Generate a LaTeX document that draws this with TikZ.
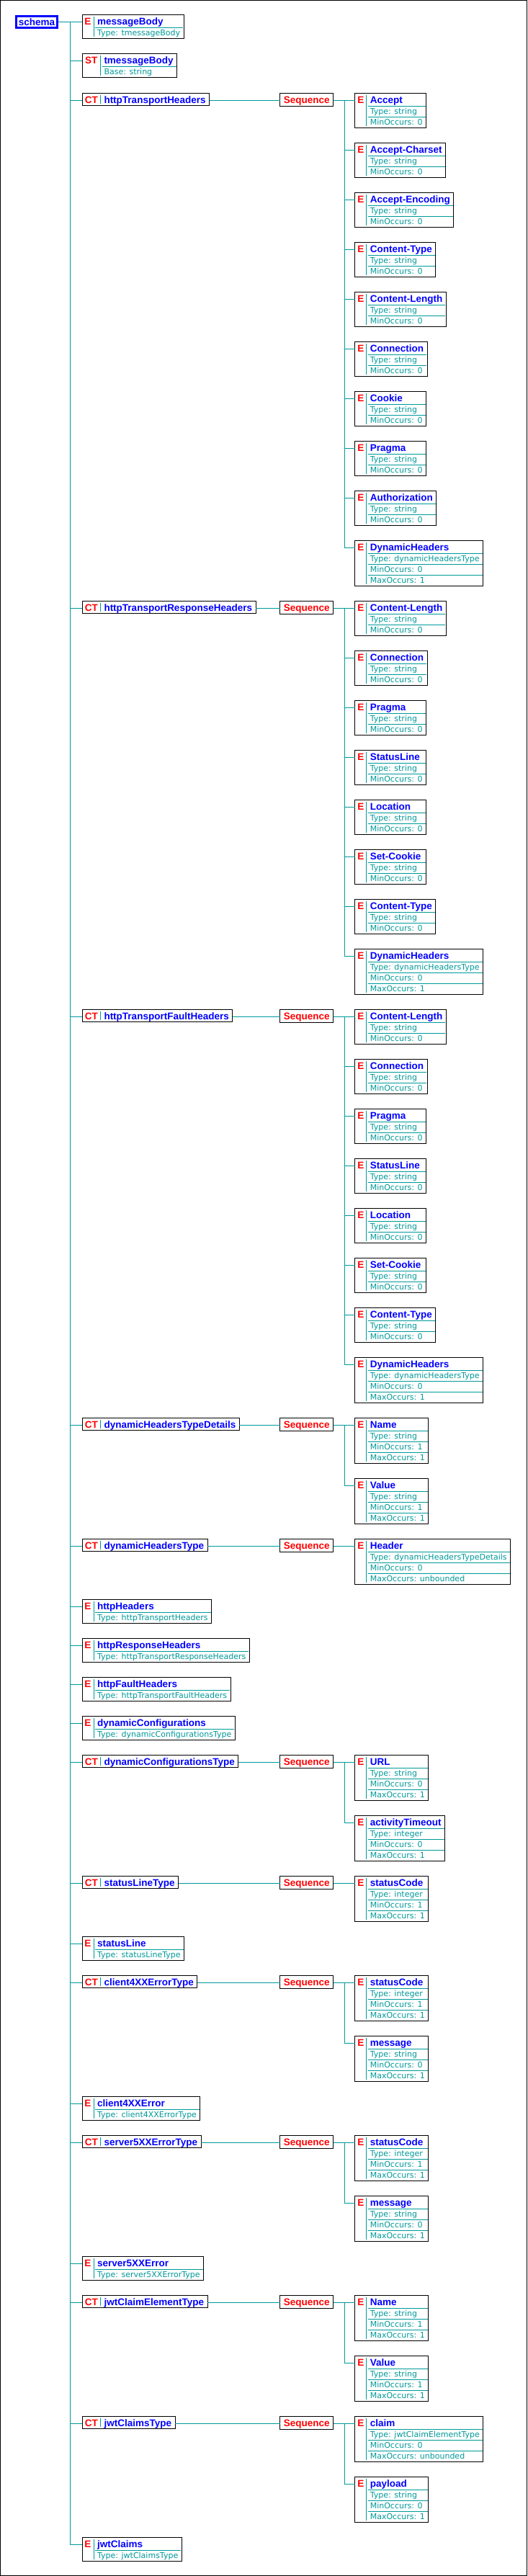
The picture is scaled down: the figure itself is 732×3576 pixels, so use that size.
\documentclass[tikz,border=0pt]{standalone}
\usepackage{fontspec}
\usetikzlibrary{calc}
\newfontfamily\LSans{Liberation Sans}
\newfontfamily\DSans{DejaVu Sans}
\newcommand\NameFont{\LSans\bfseries\fontsize{13.5}{16}\selectfont}
\newcommand\SmallFont{\DSans\fontsize{11}{13}\selectfont}
\definecolor{tealc}{RGB}{0,153,153}
\definecolor{xblue}{RGB}{0,0,255}
\definecolor{xred}{RGB}{255,0,0}
\tikzset{
  conn/.style={draw=tealc, line width=1pt},
  inrule/.style={draw=tealc, line width=1pt},
  xframe/.style={draw=black, line width=1pt, fill=white, inner sep=0pt, outer sep=0pt, anchor=north west},
  seqbox/.style={xframe, text=xred, font=\NameFont, inner xsep=5pt, inner ysep=0pt, text height=13.5pt, text depth=4.2pt},
  schemabox/.style={draw=xblue, line width=3pt, text=xblue, font=\NameFont, inner sep=0pt, minimum width=57.6pt, minimum height=15.6pt},
}
\newlength\CellW
% name, x, y, kind, cell width, title, rows
\newcommand\XBox[7]{%
  \setlength\CellW{#5pt}%
  \node[xframe] (#1) at (#2,#3) {\vbox{\offinterlineskip
     \hbox{\hbox to\CellW{\hss\textcolor{xred}{\NameFont #4}\hss}\hskip5pt\textcolor{xblue}{\NameFont #6}\vrule height13.5pt depth4pt width0pt\hskip5pt}%
     \foreach \rw in {#7}{\hbox{\hskip\CellW\hskip5pt\textcolor{tealc}{\SmallFont\rw}\vrule height11.5pt depth3.5pt width0pt\hskip5pt}}%
  }};
  \draw[inrule] ($(#1.north west)+(#5,2)$) -- ($(#1.south west)+(#5,-2)$);
  \foreach \rw [count=\ri from 0] in {#7} {\draw[inrule] ($(#1.north west)+(#5+2,17.5+15*\ri)$) -- ($(#1.north east)+(-1,17.5+15*\ri)$);}
}
% name, x, y, title
\newcommand\CTBox[4]{%
  \node[xframe] (#1) at (#2,#3) {\hbox{\hbox to 25.5pt{\hss\textcolor{xred}{\NameFont CT}\hss}\hskip5pt\textcolor{xblue}{\NameFont #4}\vrule height13.5pt depth2.5pt width0pt\hskip5pt}};
  \draw[inrule] ($(#1.north west)+(25.5,2)$) -- ($(#1.south west)+(25.5,-2)$);
}
\newcommand\TopLink[1]{\draw[conn] (schema.east) -- (trunk) |- ($(#1.north west)+(0,9.5)$);}
\newcommand\SeqLink[2]{\draw[conn] ($(#1.north east)+(0,9.5)$) -- ($(#2.north west)+(0,9.5)$);}
\newcommand\SubLink[2]{\draw[conn] ($(#1.north east)+(0,9.5)$) -- ++(16,0) |- ($(#2.north west)+(0,9.5)$);}
\newcommand\Ex{492.8}
\begin{document}
\begin{tikzpicture}[x=1pt,y=-1pt]
\useasboundingbox (0,0) rectangle (732,3576);
\draw[line width=1pt] (0.5,0.5) rectangle (731.5,3575.5);
\node[schemabox] (schema) at (51,30.3) {schema};
\coordinate (trunk) at (97.7,30.3);

% 1, 2
\XBox{messageBody}{114}{20.8}{E}{16}{messageBody}{Type: tmessageBody}
\XBox{tmessageBody}{114}{74.8}{ST}{25.5}{tmessageBody}{Base: string}

% 3 httpTransportHeaders
\CTBox{ctA}{114}{129.8}{httpTransportHeaders}
\node[seqbox] (sqA) at (388.8,129.8) {Sequence};
\XBox{a1}{\Ex}{129.8}{E}{16}{Accept}{Type: string,MinOccurs: 0}
\XBox{a2}{\Ex}{198.8}{E}{16}{Accept-Charset}{Type: string,MinOccurs: 0}
\XBox{a3}{\Ex}{267.8}{E}{16}{Accept-Encoding}{Type: string,MinOccurs: 0}
\XBox{a4}{\Ex}{336.8}{E}{16}{Content-Type}{Type: string,MinOccurs: 0}
\XBox{a5}{\Ex}{405.8}{E}{16}{Content-Length}{Type: string,MinOccurs: 0}
\XBox{a6}{\Ex}{474.8}{E}{16}{Connection}{Type: string,MinOccurs: 0}
\XBox{a7}{\Ex}{543.8}{E}{16}{Cookie}{Type: string,MinOccurs: 0}
\XBox{a8}{\Ex}{612.8}{E}{16}{Pragma}{Type: string,MinOccurs: 0}
\XBox{a9}{\Ex}{681.8}{E}{16}{Authorization}{Type: string,MinOccurs: 0}
\XBox{a10}{\Ex}{750.8}{E}{16}{DynamicHeaders}{Type: dynamicHeadersType,MinOccurs: 0,MaxOccurs: 1}

% 4 httpTransportResponseHeaders
\CTBox{ctB}{114}{834.9}{httpTransportResponseHeaders}
\node[seqbox] (sqB) at (388.8,834.9) {Sequence};
\XBox{b1}{\Ex}{834.9}{E}{16}{Content-Length}{Type: string,MinOccurs: 0}
\XBox{b2}{\Ex}{903.9}{E}{16}{Connection}{Type: string,MinOccurs: 0}
\XBox{b3}{\Ex}{972.9}{E}{16}{Pragma}{Type: string,MinOccurs: 0}
\XBox{b4}{\Ex}{1041.9}{E}{16}{StatusLine}{Type: string,MinOccurs: 0}
\XBox{b5}{\Ex}{1110.9}{E}{16}{Location}{Type: string,MinOccurs: 0}
\XBox{b6}{\Ex}{1179.9}{E}{16}{Set-Cookie}{Type: string,MinOccurs: 0}
\XBox{b7}{\Ex}{1248.9}{E}{16}{Content-Type}{Type: string,MinOccurs: 0}
\XBox{b8}{\Ex}{1317.9}{E}{16}{DynamicHeaders}{Type: dynamicHeadersType,MinOccurs: 0,MaxOccurs: 1}

% 5 httpTransportFaultHeaders
\CTBox{ctC}{114}{1401.8}{httpTransportFaultHeaders}
\node[seqbox] (sqC) at (388.8,1401.8) {Sequence};
\XBox{c1}{\Ex}{1401.8}{E}{16}{Content-Length}{Type: string,MinOccurs: 0}
\XBox{c2}{\Ex}{1470.8}{E}{16}{Connection}{Type: string,MinOccurs: 0}
\XBox{c3}{\Ex}{1539.8}{E}{16}{Pragma}{Type: string,MinOccurs: 0}
\XBox{c4}{\Ex}{1608.8}{E}{16}{StatusLine}{Type: string,MinOccurs: 0}
\XBox{c5}{\Ex}{1677.8}{E}{16}{Location}{Type: string,MinOccurs: 0}
\XBox{c6}{\Ex}{1746.8}{E}{16}{Set-Cookie}{Type: string,MinOccurs: 0}
\XBox{c7}{\Ex}{1815.8}{E}{16}{Content-Type}{Type: string,MinOccurs: 0}
\XBox{c8}{\Ex}{1884.8}{E}{16}{DynamicHeaders}{Type: dynamicHeadersType,MinOccurs: 0,MaxOccurs: 1}

% 6 dynamicHeadersTypeDetails
\CTBox{ctD}{114}{1968.8}{dynamicHeadersTypeDetails}
\node[seqbox] (sqD) at (388.8,1968.8) {Sequence};
\XBox{d1}{\Ex}{1968.8}{E}{16}{Name}{Type: string,MinOccurs: 1,MaxOccurs: 1}
\XBox{d2}{\Ex}{2052.8}{E}{16}{Value}{Type: string,MinOccurs: 1,MaxOccurs: 1}

% 7 dynamicHeadersType
\CTBox{ctE}{114}{2136.8}{dynamicHeadersType}
\node[seqbox] (sqE) at (388.8,2136.8) {Sequence};
\XBox{e1}{\Ex}{2136.8}{E}{16}{Header}{Type: dynamicHeadersTypeDetails,MinOccurs: 0,MaxOccurs: unbounded}

% 8-11
\XBox{httpHeaders}{114}{2220.8}{E}{16}{httpHeaders}{Type: httpTransportHeaders}
\XBox{httpResponseHeaders}{114}{2274.8}{E}{16}{httpResponseHeaders}{Type: httpTransportResponseHeaders}
\XBox{httpFaultHeaders}{114}{2328.8}{E}{16}{httpFaultHeaders}{Type: httpTransportFaultHeaders}
\XBox{dynamicConfigurations}{114}{2382.8}{E}{16}{dynamicConfigurations}{Type: dynamicConfigurationsType}

% 12 dynamicConfigurationsType
\CTBox{ctF}{114}{2436.8}{dynamicConfigurationsType}
\node[seqbox] (sqF) at (388.8,2436.8) {Sequence};
\XBox{f1}{\Ex}{2436.8}{E}{16}{URL}{Type: string,MinOccurs: 0,MaxOccurs: 1}
\XBox{f2}{\Ex}{2520.8}{E}{16}{activityTimeout}{Type: integer,MinOccurs: 0,MaxOccurs: 1}

% 13 statusLineType
\CTBox{ctG}{114}{2604.8}{statusLineType}
\node[seqbox] (sqG) at (388.8,2604.8) {Sequence};
\XBox{g1}{\Ex}{2604.8}{E}{16}{statusCode}{Type: integer,MinOccurs: 1,MaxOccurs: 1}

% 14
\XBox{statusLine}{114}{2688.8}{E}{16}{statusLine}{Type: statusLineType}

% 15 client4XXErrorType
\CTBox{ctH}{114}{2742.8}{client4XXErrorType}
\node[seqbox] (sqH) at (388.8,2742.8) {Sequence};
\XBox{h1}{\Ex}{2742.8}{E}{16}{statusCode}{Type: integer,MinOccurs: 1,MaxOccurs: 1}
\XBox{h2}{\Ex}{2826.8}{E}{16}{message}{Type: string,MinOccurs: 0,MaxOccurs: 1}

% 16
\XBox{client4XXError}{114}{2910.8}{E}{16}{client4XXError}{Type: client4XXErrorType}

% 17 server5XXErrorType
\CTBox{ctI}{114}{2964.8}{server5XXErrorType}
\node[seqbox] (sqI) at (388.8,2964.8) {Sequence};
\XBox{i1}{\Ex}{2964.8}{E}{16}{statusCode}{Type: integer,MinOccurs: 1,MaxOccurs: 1}
\XBox{i2}{\Ex}{3048.8}{E}{16}{message}{Type: string,MinOccurs: 0,MaxOccurs: 1}

% 18
\XBox{server5XXError}{114}{3132.8}{E}{16}{server5XXError}{Type: server5XXErrorType}

% 19 jwtClaimElementType
\CTBox{ctJ}{114}{3186.8}{jwtClaimElementType}
\node[seqbox] (sqJ) at (388.8,3186.8) {Sequence};
\XBox{j1}{\Ex}{3186.8}{E}{16}{Name}{Type: string,MinOccurs: 1,MaxOccurs: 1}
\XBox{j2}{\Ex}{3270.8}{E}{16}{Value}{Type: string,MinOccurs: 1,MaxOccurs: 1}

% 20 jwtClaimsType
\CTBox{ctK}{114}{3354.8}{jwtClaimsType}
\node[seqbox] (sqK) at (388.8,3354.8) {Sequence};
\XBox{k1}{\Ex}{3354.8}{E}{16}{claim}{Type: jwtClaimElementType,MinOccurs: 0,MaxOccurs: unbounded}
\XBox{k2}{\Ex}{3438.8}{E}{16}{payload}{Type: string,MinOccurs: 0,MaxOccurs: 1}

% 21
\XBox{jwtClaims}{114}{3522.8}{E}{16}{jwtClaims}{Type: jwtClaimsType}

% ---- connectors ----
\foreach \t in {messageBody,tmessageBody,ctA,ctB,ctC,ctD,ctE,httpHeaders,httpResponseHeaders,httpFaultHeaders,dynamicConfigurations,ctF,ctG,statusLine,ctH,client4XXError,ctI,server5XXError,ctJ,ctK,jwtClaims}{\TopLink{\t}}
\foreach \c/\s in {ctA/sqA,ctB/sqB,ctC/sqC,ctD/sqD,ctE/sqE,ctF/sqF,ctG/sqG,ctH/sqH,ctI/sqI,ctJ/sqJ,ctK/sqK}{\SeqLink{\c}{\s}}
\foreach \n in {1,...,10}{\SubLink{sqA}{a\n}}
\foreach \n in {1,...,8}{\SubLink{sqB}{b\n}\SubLink{sqC}{c\n}}
\foreach \n in {1,2}{\SubLink{sqD}{d\n}\SubLink{sqF}{f\n}\SubLink{sqH}{h\n}\SubLink{sqI}{i\n}\SubLink{sqJ}{j\n}\SubLink{sqK}{k\n}}
\SubLink{sqE}{e1}
\SubLink{sqG}{g1}
\end{tikzpicture}
\end{document}
